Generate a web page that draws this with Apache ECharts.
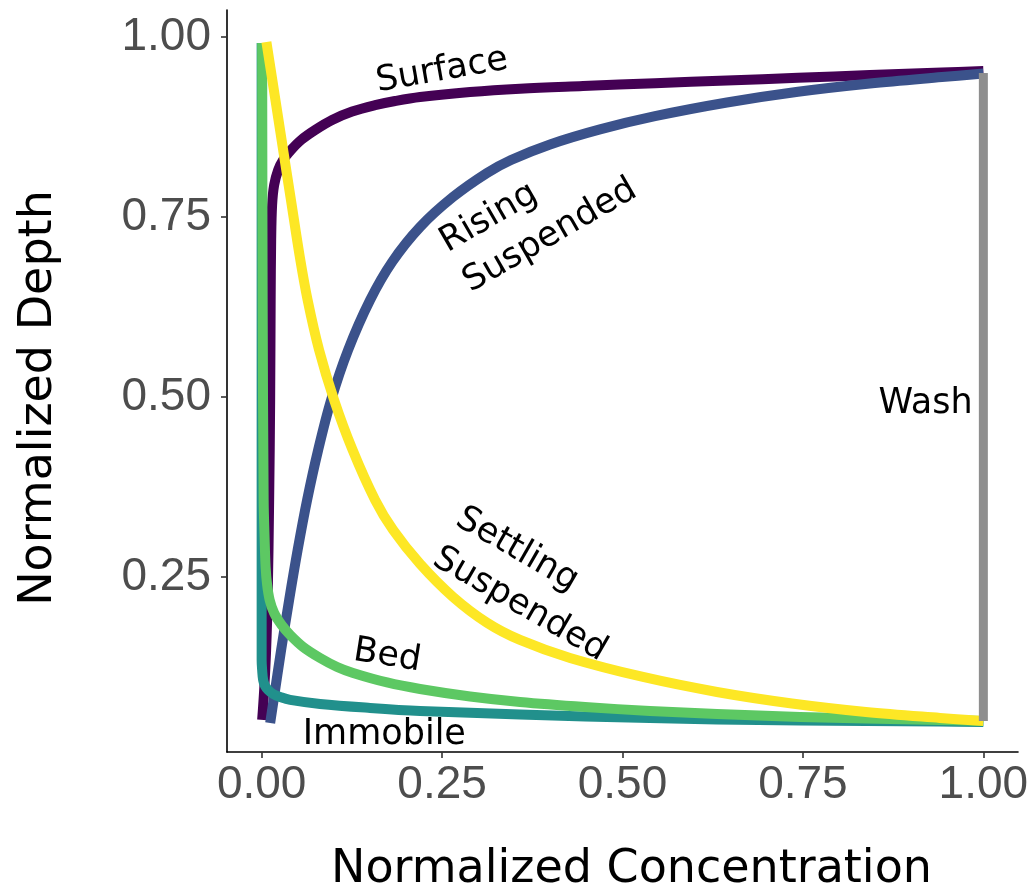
<!DOCTYPE html>
<html>
<head>
<meta charset="utf-8">
<script src="https://cdn.jsdelivr.net/npm/echarts@6/dist/echarts.min.js"></script>
<style>
  html, body { margin: 0; padding: 0; background: #ffffff; }
  #chart { width: 1034px; height: 895px; }
</style>
</head>
<body>
<div id="chart"></div>
<script>
// Normalized concentration (x) vs normalized depth (y) for each transport class
const surface = [
  [0.0007, 0.0514], [0.0035, 0.0931], [0.0062, 0.1486], [0.0083, 0.2181], [0.0104, 0.3569],
  [0.0118, 0.4958], [0.0125, 0.6347], [0.0132, 0.7181], [0.0145, 0.7667], [0.0173, 0.7944],
  [0.0229, 0.8153], [0.0298, 0.8292], [0.0409, 0.8431], [0.0547, 0.8569], [0.0741, 0.8708],
  [0.0976, 0.8847], [0.1254, 0.8964], [0.1572, 0.9053], [0.1849, 0.9111], [0.2195, 0.9167],
  [0.2888, 0.9236], [0.3580, 0.9282], [0.4453, 0.9319], [0.5450, 0.9358], [0.6447, 0.9396],
  [0.7431, 0.9433], [0.8428, 0.9472], [0.9425, 0.9507], [1.0000, 0.9528]
];
const rising = [
  [0.0118, 0.0472], [0.0166, 0.0792], [0.0270, 0.1486], [0.0381, 0.2181], [0.0499, 0.2875],
  [0.0630, 0.3569], [0.0783, 0.4264], [0.0963, 0.4958], [0.1198, 0.5653], [0.1503, 0.6347],
  [0.1808, 0.6875], [0.2195, 0.7361], [0.2652, 0.7778], [0.3123, 0.8111], [0.3455, 0.8292],
  [0.3996, 0.8508], [0.4688, 0.8717], [0.5450, 0.8900], [0.6447, 0.9090], [0.7431, 0.9239],
  [0.8428, 0.9354], [0.9425, 0.9444], [1.0000, 0.9492]
];
const immobile = [
  [0.0000, 0.9917], [0.0000, 0.6000], [0.0000, 0.3000], [0.0000, 0.1347], [0.0007, 0.1208],
  [0.0021, 0.1069], [0.0048, 0.0986], [0.0090, 0.0931], [0.0159, 0.0875], [0.0256, 0.0833],
  [0.0395, 0.0792], [0.0810, 0.0736], [0.1503, 0.0681], [0.2195, 0.0639], [0.3580, 0.0590],
  [0.4481, 0.0563], [0.5381, 0.0542], [0.6309, 0.0521], [0.7458, 0.0507], [0.8373, 0.0500],
  [0.9398, 0.0493], [1.0000, 0.0486]
];
const bed = [
  [0.0007, 0.9917], [0.0014, 0.6347], [0.0028, 0.3569], [0.0042, 0.3014], [0.0055, 0.2639],
  [0.0076, 0.2389], [0.0111, 0.2181], [0.0173, 0.2000], [0.0277, 0.1833], [0.0395, 0.1694],
  [0.0575, 0.1528], [0.0810, 0.1375], [0.1046, 0.1250], [0.1267, 0.1167], [0.1738, 0.1035],
  [0.2195, 0.0944], [0.2888, 0.0840], [0.3580, 0.0764], [0.4481, 0.0694], [0.5381, 0.0639],
  [0.6309, 0.0597], [0.7458, 0.0556], [0.8373, 0.0535], [0.9398, 0.0514], [1.0000, 0.0500]
];
const settling = [
  [0.0066, 0.9931], [0.0191, 0.9125], [0.0298, 0.8431], [0.0406, 0.7736], [0.0529, 0.6944],
  [0.0637, 0.6347], [0.0796, 0.5653], [0.1004, 0.4958], [0.1260, 0.4264], [0.1572, 0.3569],
  [0.1821, 0.3153], [0.2195, 0.2681], [0.2652, 0.2222], [0.3123, 0.1864], [0.3580, 0.1625],
  [0.4273, 0.1375], [0.5284, 0.1111], [0.6309, 0.0903], [0.7348, 0.0743], [0.8373, 0.0625],
  [0.9398, 0.0542], [1.0000, 0.0500]
];
const wash = [[1.000, 0.050], [1.000, 0.950]];

const seriesNames = ['Surface', 'Rising Suspended', 'Immobile', 'Bed', 'Settling Suspended', 'Wash'];
const seriesColors = ['#440154', '#3b528b', '#21908c', '#5dc863', '#fde725', '#8e8e8e'];

// Tick positions on both axes
const xTicks = [0, 0.25, 0.5, 0.75, 1];
const yTicks = [0.25, 0.5, 0.75, 1];

// In-plot labels naming each curve
const noteText  = ['Surface', 'Rising\nSuspended', 'Settling\nSuspended', 'Bed', 'Immobile', 'Wash'];
const noteX     = [0.250, 0.267, 0.257, 0.174, 0.170, 0.920];
const noteY     = [0.953, 0.684, 0.307, 0.140, 0.031, 0.490];
const noteAngle = [10, 30, -30, -9, 0, 0];
const noteAlign = ['center', 'left', 'left', 'center', 'center', 'center'];

const chart = echarts.init(document.getElementById('chart'), null, { renderer: 'canvas' });

const curveSets = [surface, rising, immobile, bed, settling, wash];
const lineSeries = curveSets.map((pts, i) => ({
  name: seriesNames[i],
  type: 'line',
  data: pts,
  showSymbol: false,
  smooth: i === 5 ? false : 0.35,
  silent: true,
  z: 2 + i,
  lineStyle: { color: seriesColors[i], width: i === 5 ? 9 : 10, cap: 'butt', join: 'round' }
}));

const noteSeries = {
  type: 'scatter',
  symbolSize: 0,
  silent: true,
  z: 20,
  itemStyle: { opacity: 1 },
  data: noteText.map((t, i) => ({
    value: [noteX[i], noteY[i]],
    name: t,
    label: { rotate: noteAngle[i], align: noteAlign[i], color: '#000000' }
  })),
  label: {
    show: true,
    position: 'inside',
    formatter: p => p.name,
    fontFamily: 'DejaVu Sans',
    fontSize: 35,
    lineHeight: 46,
    color: '#000000',
    opacity: 1,
    textBorderWidth: 0,
    verticalAlign: 'middle'
  }
};

chart.setOption({
  animation: false,
  backgroundColor: '#ffffff',
  grid: { left: 227, right: 16, top: 10, bottom: 143, containLabel: false, outerBoundsMode: 'none' },
  xAxis: {
    type: 'value',
    min: -0.048,
    max: 1.048,
    name: 'Normalized Concentration',
    nameLocation: 'middle',
    nameGap: 95,
    nameTextStyle: { fontFamily: 'DejaVu Sans', fontSize: 46, color: '#000000', padding: [0, 0, 0, 18] },
    axisLine: { show: true, onZero: false, lineStyle: { color: '#000000', width: 1.6 } },
    axisTick: { show: true, length: 6, customValues: xTicks, lineStyle: { color: '#333333', width: 1.6 } },
    axisLabel: {
      customValues: xTicks,
      formatter: v => v.toFixed(2),
      fontFamily: 'Liberation Sans',
      fontSize: 46,
      color: '#4d4d4d',
      margin: 10
    },
    splitLine: { show: false }
  },
  yAxis: {
    type: 'value',
    min: 0.0069,
    max: 1.0375,
    name: 'Normalized Depth',
    nameLocation: 'middle',
    nameGap: 165,
    nameTextStyle: { fontFamily: 'DejaVu Sans', fontSize: 46, color: '#000000', padding: [0, 34, 0, 0] },
    axisLine: { show: true, onZero: false, lineStyle: { color: '#000000', width: 1.6 } },
    axisTick: { show: true, length: 6, customValues: yTicks, lineStyle: { color: '#333333', width: 1.6 } },
    axisLabel: {
      customValues: yTicks,
      formatter: v => v.toFixed(2),
      fontFamily: 'Liberation Sans',
      fontSize: 46,
      color: '#4d4d4d',
      margin: 16
    },
    splitLine: { show: false }
  },
  series: lineSeries.concat([noteSeries])
});
</script>
</body>
</html>
